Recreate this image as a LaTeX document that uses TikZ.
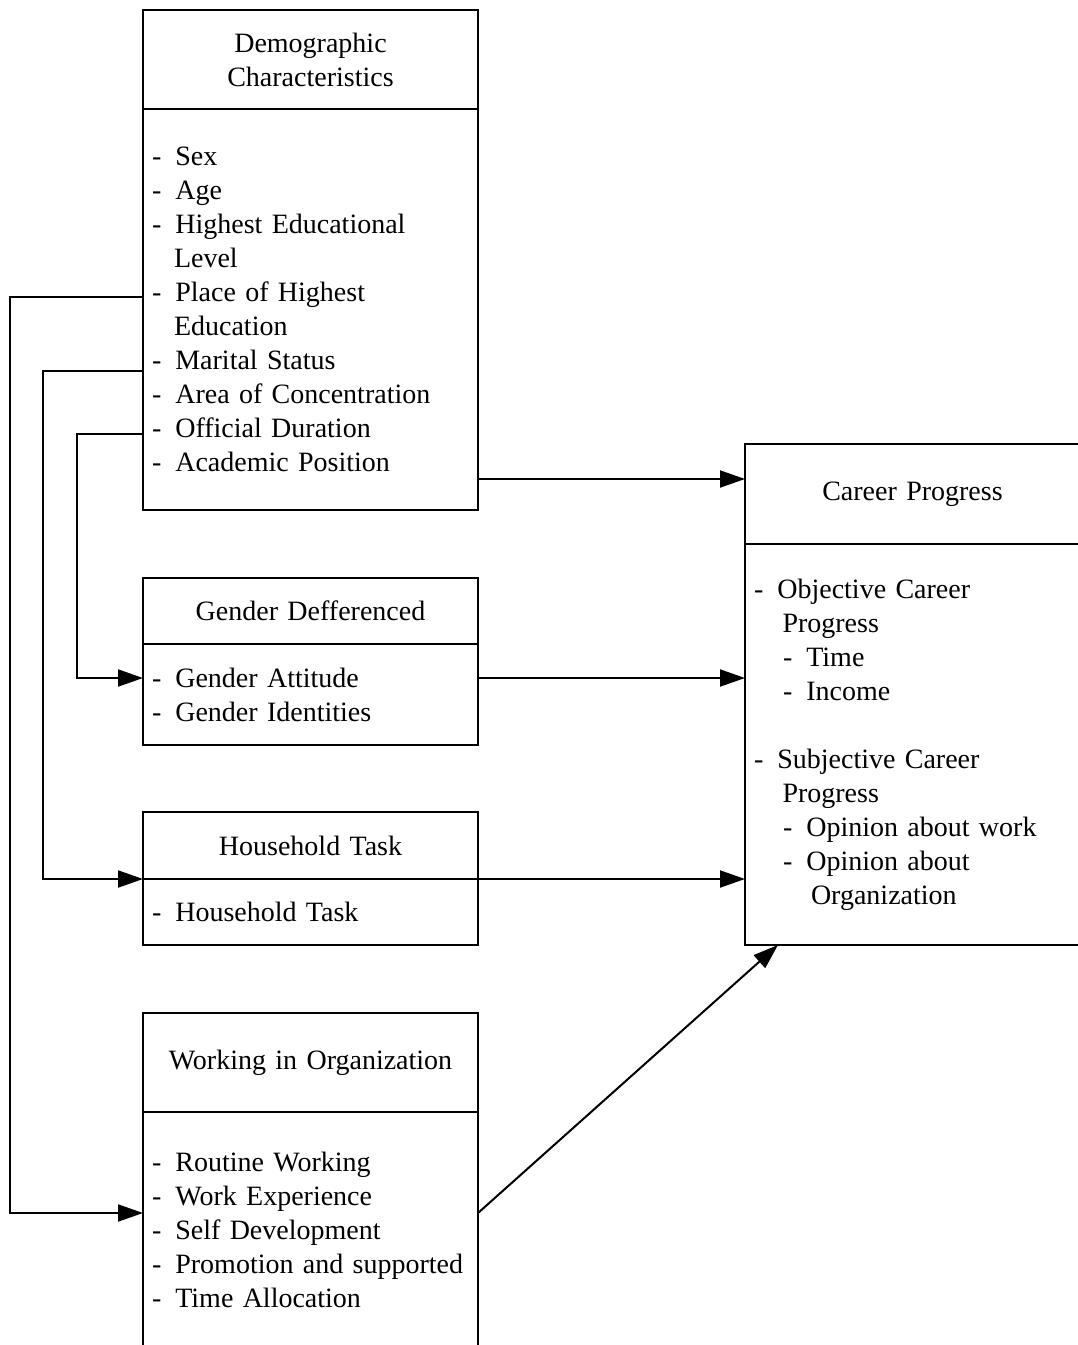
\documentclass[tikz,border=0pt]{standalone}
\usepackage{fontspec}
\setmainfont{Liberation Serif}
\usetikzlibrary{arrows.meta, positioning}
\tikzset{
  every picture/.style={x=1pt, y=-1pt, line width=2pt},
  every node/.style={font=\fontsize{28}{34}\selectfont},
  head/.style={draw, outer sep=0pt, inner sep=9pt, text width=317pt, align=center, minimum width=335pt, anchor=north west},
  body/.style={draw, outer sep=0pt, inner xsep=9pt, text width=317pt, align=left, minimum width=335pt},
  arrow/.style={-{Triangle[length=25pt, width=17pt]}},
}
\newcommand{\itm}[1]{-\hspace{14pt}#1}

\begin{document}
\begin{tikzpicture}
  \useasboundingbox (0,0) rectangle (1078,1345);
  \clip (0,0) rectangle (1078,1345);
  % left column
  \node[head, minimum height=99] (demoH) at (143,10) {Demographic\\Characteristics};
  \node[body, minimum height=401, below=0pt of demoH] (demo) {\itm{Sex}\\ \itm{Age}\\ \itm{Highest Educational}\\ \hspace*{22pt}Level\\ \itm{Place of Highest}\\ \hspace*{22pt}Education\\ \itm{Marital Status}\\ \itm{Area of Concentration}\\ \itm{Official Duration}\\ \itm{Academic Position}};
  \node[head, minimum height=66] (gendH) at (143,578) {Gender Defferenced};
  \node[body, minimum height=101, below=0pt of gendH] (gend) {\itm{Gender Attitude}\\ \itm{Gender Identities}};
  \node[head, minimum height=67] (houseH) at (143,812) {Household Task};
  \node[body, minimum height=66, below=0pt of houseH] (house) {\itm{Household Task}};
  \node[head, minimum height=99] (workH) at (143,1013) {Working in Organization};
  \node[body, minimum height=236, below=0pt of workH] (work) {\itm{Routine Working}\\ \itm{Work Experience}\\ \itm{Self Development}\\ \itm{Promotion and supported}\\ \itm{Time Allocation}};
  % right column
  \node[head, minimum height=100] (careerH) at (745,444) {Career Progress};
  \node[body, minimum height=401, below=0pt of careerH] (career) {\itm{Objective Career}\\ \hspace*{28.5pt}Progress\\ \hspace*{29pt}\itm{Time}\\ \hspace*{29pt}\itm{Income}\\[34pt] \itm{Subjective Career}\\ \hspace*{28.5pt}Progress\\ \hspace*{29pt}\itm{Opinion about work}\\ \hspace*{29pt}\itm{Opinion about}\\ \hspace*{57pt}Organization};
  % connectors
  \coordinate (dPlace) at ([yshift=12.5pt]demo.west);
  \coordinate (dMarital) at ([yshift=-61.5pt]demo.west);
  \coordinate (dOfficial) at ([yshift=-124.5pt]demo.west);
  \coordinate (dOut) at ([yshift=-169.5pt]demo.east);
  \coordinate (gIn) at ([yshift=16.5pt]gend.west);
  \coordinate (gOut) at ([yshift=16.5pt]gend.east);
  \coordinate (wIn) at ([yshift=17pt]work.west);
  \coordinate (wOut) at ([yshift=17pt]work.east);
  \draw[arrow] (dPlace) -- ++(-133,0) |- (wIn);
  \draw[arrow] (dMarital) -- ++(-100,0) |- (house.north west);
  \draw[arrow] (dOfficial) -- ++(-66,0) |- (gIn);
  \draw[arrow] (dOut) -- (dOut -| career.west);
  \draw[arrow] (gOut) -- (gOut -| career.west);
  \draw[arrow] (houseH.south east) -- (houseH.south east -| career.west);
  \draw[arrow] (wOut) -- ([xshift=33pt]career.south west);
\end{tikzpicture}
\end{document}
